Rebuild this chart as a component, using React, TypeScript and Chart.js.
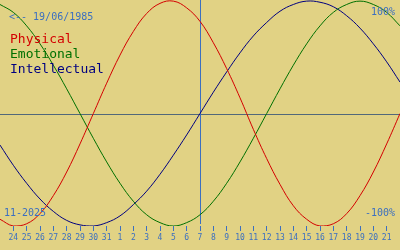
import React, { useEffect, useRef } from "react";
import { Chart, registerables } from "chart.js";

Chart.register(...registerables);

// Day labels (24 Oct .. 21 Nov 2025), positioned at index 0..28
const dayLabels = [
  "24", "25", "26", "27", "28", "29", "30", "31",
  "1", "2", "3", "4", "5", "6", "7", "8", "9", "10", "11", "12", "13", "14",
  "15", "16", "17", "18", "19", "20", "21",
];

// Sample days (index, -1 = 23 Oct .. 29 = 22 Nov)
const sampleDays = [
  -1, 0, 1, 2, 3, 4, 5, 6, 7, 8, 9, 10, 11, 12, 13, 14, 15, 16, 17, 18, 19,
  20, 21, 22, 23, 24, 25, 26, 27, 28, 29,
];

const physical = [
  -0.94, -1.0, -0.98, -0.89, -0.73, -0.52, -0.27, 0.0, 0.27, 0.52, 0.73, 0.89,
  0.98, 1.0, 0.94, 0.82, 0.63, 0.4, 0.14, -0.14, -0.4, -0.63, -0.82, -0.94,
  -1.0, -0.98, -0.89, -0.73, -0.52, -0.27, 0.0,
];

const emotional = [
  0.97, 0.9, 0.78, 0.62, 0.43, 0.22, 0.0, -0.22, -0.43, -0.62, -0.78, -0.9,
  -0.97, -1.0, -0.97, -0.9, -0.78, -0.62, -0.43, -0.22, 0.0, 0.22, 0.43, 0.62,
  0.78, 0.9, 0.97, 1.0, 0.97, 0.9, 0.78,
];

const intellectual = [
  -0.28, -0.46, -0.62, -0.76, -0.87, -0.95, -0.99, -1.0, -0.97, -0.91, -0.81,
  -0.69, -0.54, -0.37, -0.19, 0.0, 0.19, 0.37, 0.54, 0.69, 0.81, 0.91, 0.97,
  1.0, 0.99, 0.95, 0.87, 0.76, 0.62, 0.46, 0.28,
];

const todayIndex = 14;
const birthText = "<-- 19/06/1985";
const monthText = "11-2025";
const topText = "100%";
const bottomText = "-100%";
const seriesNames = ["Physical", "Emotional", "Intellectual"];

const BG = "#e1d284";
const BLUE = "#3b6fc0";
const RED = "#d40000";
const GREEN = "#007000";
const NAVY = "#000080";
const ZERO = "#51687a";
const MONO = "'DejaVu Sans Mono', 'Liberation Mono', monospace";

const toPoints = (vals: number[]) =>
  vals.map((v, i) => ({ x: sampleDays[i], y: v }));

const overlay = {
  id: "overlay",
  beforeDraw(chart: any) {
    const { ctx, width, height } = chart;
    ctx.save();
    ctx.fillStyle = BG;
    ctx.fillRect(0, 0, width, height);
    ctx.restore();
  },
  beforeDatasetsDraw(chart: any) {
    const { ctx, chartArea, scales } = chart;
    const x = scales.x;
    const y = scales.y;
    ctx.save();
    ctx.lineWidth = 1;
    ctx.strokeStyle = ZERO;
    const y0 = Math.round(y.getPixelForValue(0)) + 0.5;
    ctx.beginPath();
    ctx.moveTo(chartArea.left, y0);
    ctx.lineTo(chartArea.right, y0);
    ctx.stroke();
    ctx.strokeStyle = BLUE;
    const xt = Math.round(x.getPixelForValue(todayIndex)) + 0.5;
    ctx.beginPath();
    ctx.moveTo(xt, chartArea.top);
    ctx.lineTo(xt, chartArea.bottom - 2);
    ctx.stroke();
    ctx.restore();
  },
  afterDraw(chart: any) {
    const { ctx } = chart;
    ctx.save();
    ctx.textBaseline = "alphabetic";
    ctx.font = `10px ${MONO}`;
    ctx.fillStyle = BLUE;
    ctx.textAlign = "left";
    ctx.fillText(birthText, 9, 20);
    ctx.fillText(monthText, 4, 216);
    ctx.textAlign = "right";
    ctx.fillText(topText, 395, 15);
    ctx.fillText(bottomText, 395, 216);
    ctx.textAlign = "left";
    ctx.font = `13px ${MONO}`;
    const colors = [RED, GREEN, NAVY];
    seriesNames.forEach((n, i) => {
      ctx.fillStyle = colors[i];
      ctx.fillText(n, 10, 43 + i * 15);
    });
    ctx.restore();
  },
};

export default function App() {
  const ref = useRef<HTMLCanvasElement | null>(null);
  useEffect(() => {
    document.body.style.margin = "0";
    const canvas = ref.current;
    if (!canvas) return;
    const line = (data: number[], color: string) => ({
      data: toPoints(data),
      borderColor: color,
      borderWidth: 1,
      pointRadius: 0,
      tension: 0.4,
      fill: false,
    });
    const chart = new Chart(canvas, {
      type: "line",
      data: {
        datasets: [
          line(physical, RED),
          line(emotional, GREEN),
          line(intellectual, NAVY),
        ],
      },
      options: {
        animation: false,
        responsive: false,
        layout: { padding: { left: 0, right: 0, top: 0, bottom: 5 } },
        plugins: {
          legend: { display: false },
          tooltip: { enabled: false },
        },
        scales: {
          x: {
            type: "linear",
            min: -1,
            max: 29,
            afterBuildTicks: (scale: any) => {
              scale.ticks = dayLabels.map((_, i) => ({ value: i }));
            },
            grid: {
              drawOnChartArea: false,
              drawTicks: true,
              tickLength: 5,
              color: BLUE,
              lineWidth: 1,
            },
            border: { display: false },
            ticks: {
              autoSkip: false,
              maxRotation: 0,
              padding: 2.2,
              color: BLUE,
              font: { family: MONO, size: 8 },
              callback: (_v: any, i: number) => dayLabels[i],
            },
          },
          y: {
            display: false,
            min: -1,
            max: 1.01,
          },
        },
      },
      plugins: [overlay],
    });
    return () => chart.destroy();
  }, []);
  return (
    <div style={{ width: 400, height: 250 }}>
      <canvas ref={ref} width={400} height={250} />
    </div>
  );
}
